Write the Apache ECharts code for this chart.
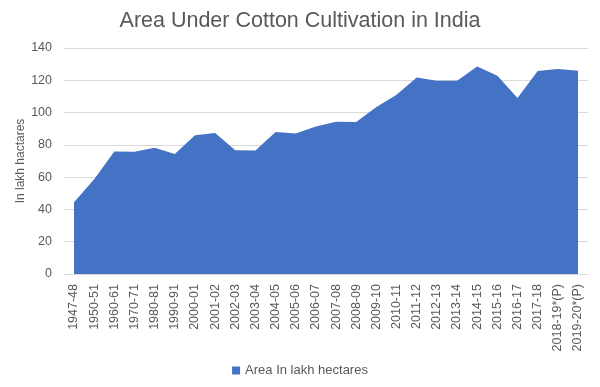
<!DOCTYPE html>
<html><head><meta charset="utf-8">
<script src="https://cdn.jsdelivr.net/npm/echarts@6/dist/echarts.min.js"></script>
<style>html,body{margin:0;padding:0;background:#fff}#c{width:600px;height:387px}</style>
</head><body><div id="c"></div>
<script>
const categories = ["1947-48","1950-51","1960-61","1970-71","1980-81","1990-91","2000-01","2001-02","2002-03","2003-04","2004-05","2005-06","2006-07","2007-08","2008-09","2009-10","2010-11","2011-12","2012-13","2013-14","2014-15","2015-16","2016-17","2017-18","2018-19*(P)","2019-20*(P)"];
const areaValues = [44.5,58.7,75.9,75.7,78.2,74.4,86.0,87.3,76.7,76.5,87.9,87.1,91.4,94.3,94.1,103.4,111.0,121.8,119.7,119.7,128.6,122.8,109.0,125.7,127.0,125.9];
const yTicks = [0,20,40,60,80,100,120,140];
const seriesName = "Area In lakh hectares";

const chart = echarts.init(document.getElementById('c'), null, {renderer:'canvas'});
const font = "Liberation Sans, Arial, sans-serif";
chart.setOption({
  animation:false,
  title:{text:"Area Under Cotton Cultivation in India",left:'center',top:5,
    textStyle:{fontFamily:font,fontSize:21.5,fontWeight:'normal',color:'#595959'}},
  legend:{bottom:5,left:'center',itemWidth:8,itemHeight:8,icon:'rect',itemGap:4,
    textStyle:{fontFamily:font,fontSize:13,color:'#595959'},data:[seriesName]},
  grid:[
    {left:74,width:504,top:48,height:226,containLabel:false},
    {left:64,width:524,top:48,height:226,containLabel:false}
  ],
  xAxis:[
    {type:'category',gridIndex:0,data:categories,boundaryGap:false,
      axisLine:{show:false},axisTick:{show:false},
      axisLabel:{rotate:90,interval:0,margin:10,fontFamily:font,fontSize:12.5,color:'#595959'}},
    {type:'category',gridIndex:1,data:[''],boundaryGap:false,
      axisLine:{show:true,lineStyle:{color:'#D9D9D9'}},axisTick:{show:false},axisLabel:{show:false}}
  ],
  yAxis:[
    {type:'value',gridIndex:0,min:yTicks[0],max:yTicks[yTicks.length-1],interval:20,
      axisLine:{show:false},axisTick:{show:false},axisLabel:{show:false},splitLine:{show:false}},
    {type:'value',gridIndex:1,min:yTicks[0],max:yTicks[yTicks.length-1],interval:20,
      name:"In lakh hactares",nameLocation:'middle',nameGap:37,nameMoveOverlap:false,
      nameTextStyle:{fontFamily:font,fontSize:12,color:'#595959'},
      axisLine:{show:false},axisTick:{show:false},
      axisLabel:{margin:12,fontFamily:font,fontSize:12.5,color:'#595959'},
      splitLine:{lineStyle:{color:'#D9D9D9'}}}
  ],
  series:[{
    name:seriesName,type:'line',xAxisIndex:0,yAxisIndex:0,data:areaValues,
    symbol:'none',lineStyle:{width:0,color:'#4472C4'},itemStyle:{color:'#4472C4'},
    areaStyle:{color:'#4472C4',opacity:1},z:3
  }]
});
</script></body></html>
